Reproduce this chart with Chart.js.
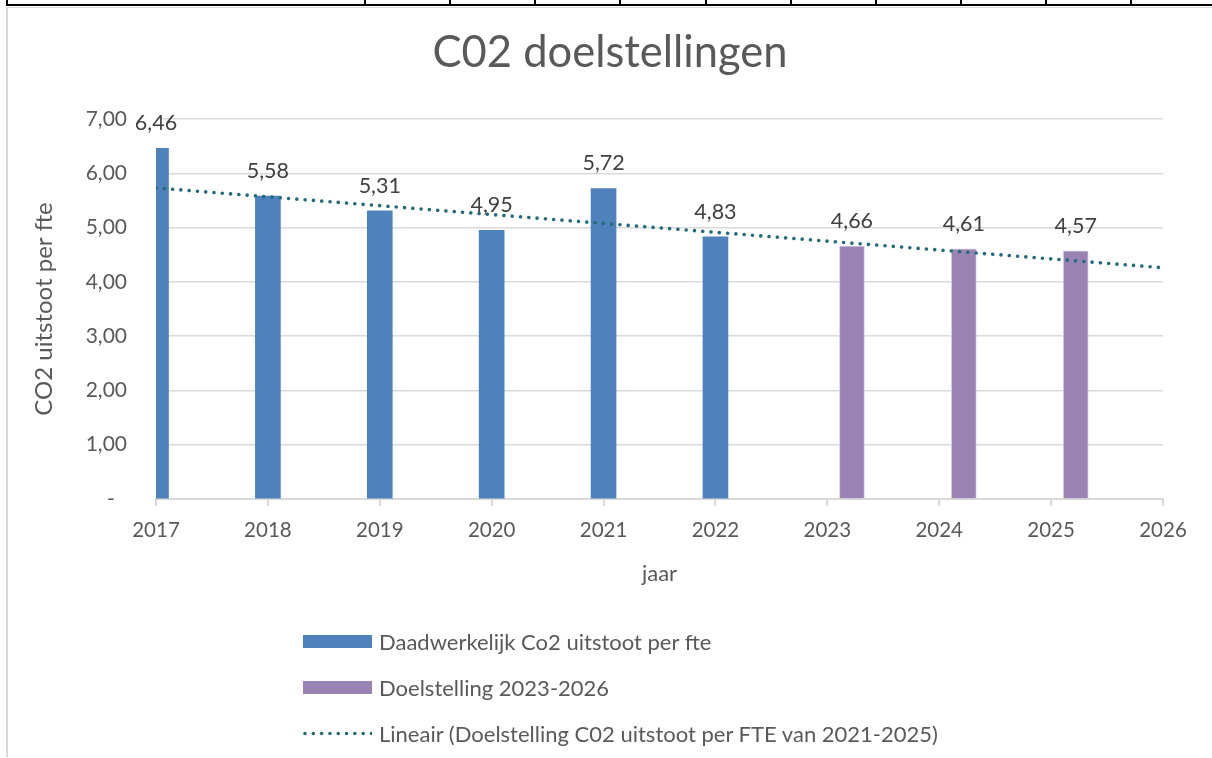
<!DOCTYPE html>
<html>
<head>
<meta charset="utf-8">
<script src="https://cdn.jsdelivr.net/npm/chart.js@4/dist/chart.umd.min.js"></script>
<style>
  html, body { margin: 0; padding: 0; background: #ffffff; }
  #wrap { position: relative; width: 1212px; height: 758px; overflow: hidden; background: #fff; }
  #c { position: absolute; left: 0; top: 0; }
  .blk { position: absolute; background: #000; }
  .gry { position: absolute; background: #d9d9d9; }
  #legend { position: absolute; left: 303px; top: 618px; font-family: Lato, sans-serif; font-size: 22px; color: #595959; }
  .item { display: flex; align-items: center; height: 46px; white-space: nowrap; }
  .sw { width: 69px; height: 13px; margin-right: 7px; flex: none; }
  .swl { width: 69px; height: 13px; margin-right: 7px; flex: none; }
</style>
</head>
<body>
<div id="wrap">
  <canvas id="c" width="1212" height="758"></canvas>
  <div class="gry" style="left:6px;top:7px;width:2px;height:750px;"></div>
  <div class="gry" style="left:6px;top:7px;width:1206px;height:1px;"></div>
  <div class="blk" style="left:6px;top:4px;width:1206px;height:2px;"></div>
  <div id="legend"></div>
</div>
<script>
// ---- data ----
const actualYears = [2017, 2018, 2019, 2020, 2021, 2022];
const actualValues = [6.46, 5.58, 5.31, 4.95, 5.72, 4.83];
const targetYears = [2023.22, 2024.22, 2025.22];
const targetValues = [4.66, 4.61, 4.57];
const trendYears = [2017, 2026];
const trendValues = [5.73, 4.26];
const xTicks = [2017, 2018, 2019, 2020, 2021, 2022, 2023, 2024, 2025, 2026];
const yTicks = [0, 1, 2, 3, 4, 5, 6, 7];
const seriesNames = [
  'Daadwerkelijk Co2 uitstoot per fte',
  'Doelstelling 2023-2026',
  'Lineair (Doelstelling C02 uitstoot per FTE van 2021-2025)'
];
const cellDividers = [7, 365, 450, 535, 620, 706, 791, 876, 961, 1046, 1131];

// spreadsheet cell dividers (decoration)
const wrap = document.getElementById('wrap');
cellDividers.forEach(x => {
  const d = document.createElement('div');
  d.className = 'blk';
  d.style.cssText = 'left:' + (x - 1) + 'px;top:0;width:2px;height:5px;';
  wrap.appendChild(d);
});

const FONT = 'Lato, sans-serif';
const TXT = '#595959';
const fmt = v => v.toFixed(2).replace('.', ',');

const valueLabels = {
  id: 'valueLabels',
  afterDatasetsDraw(chart) {
    const ctx = chart.ctx;
    ctx.save();
    ctx.font = '21.5px ' + FONT;
    ctx.fillStyle = '#404040';
    ctx.textAlign = 'center';
    ctx.textBaseline = 'middle';
    chart.data.datasets.forEach((ds, i) => {
      if (ds.type !== 'bar') return;
      const meta = chart.getDatasetMeta(i);
      meta.data.forEach((el, j) => {
        ctx.fillText(fmt(ds.data[j].y), el.x, el.y - 25);
      });
    });
    ctx.restore();
  }
};

const chart = new Chart(document.getElementById('c'), {
  type: 'bar',
  data: {
    datasets: [
      {
        type: 'bar',
        label: seriesNames[0],
        data: actualYears.map((x, i) => ({ x: x, y: actualValues[i] })),
        backgroundColor: '#4f81bd',
        borderWidth: 0,
        barThickness: 25,
        grouped: false,
        clip: 0,
        order: 2
      },
      {
        type: 'bar',
        label: seriesNames[1],
        data: targetYears.map((x, i) => ({ x: x, y: targetValues[i] })),
        backgroundColor: '#9983b4',
        borderColor: '#d6cce3',
        borderWidth: 1,
        barThickness: 25,
        grouped: false,
        clip: 0,
        order: 2
      },
      {
        type: 'line',
        label: seriesNames[2],
        data: trendYears.map((x, i) => ({ x: x, y: trendValues[i] })),
        borderColor: '#226b78',
        borderWidth: 3.6,
        borderDash: [0.01, 8.3],
        borderCapStyle: 'round',
        pointRadius: 0,
        fill: false,
        order: 0
      }
    ]
  },
  options: {
    responsive: false,
    animation: false,
    events: [],
    layout: { padding: { left: 8, right: 0, top: 0, bottom: 159 } },
    scales: {
      x: {
        type: 'linear',
        min: xTicks[0],
        max: xTicks[xTicks.length - 1],
        offset: false,
        afterBuildTicks(s) { s.ticks = xTicks.map(v => ({ value: v })); },
        afterFit(s) { s.height = 100; },
        ticks: {
          callback: v => String(v),
          color: TXT,
          font: { family: FONT, size: 20.5 },
          padding: 12,
          maxRotation: 0,
          autoSkip: false
        },
        grid: { offset: false, drawOnChartArea: false, drawTicks: true, tickLength: 7, color: '#d9d9d9', lineWidth: 2 },
        border: { display: true, color: '#d9d9d9', width: 2 },
        title: {
          display: true, text: 'jaar', color: TXT,
          font: { family: FONT, size: 22 },
          padding: { top: 0, bottom: 12 }
        }
      },
      y: {
        min: 0,
        max: 7,
        afterBuildTicks(s) { s.ticks = yTicks.map(v => ({ value: v })); },
        afterFit(s) { s.width = 148; },
        ticks: {
          callback: v => v === 0 ? '-\u2007' : fmt(v),
          color: TXT,
          font: { family: FONT, size: 21 },
          padding: 29
        },
        grid: { color: '#d9d9d9', lineWidth: 1.5, drawTicks: false },
        border: { display: false },
        title: {
          display: true, text: 'CO2 uitstoot per fte', color: TXT,
          font: { family: FONT, size: 24 },
          padding: { top: 22, bottom: 0 }
        }
      },
      yRightSpace: {
        position: 'right',
        display: true,
        afterFit(s) { s.width = 49; },
        ticks: { display: false },
        grid: { display: false },
        border: { display: false },
        title: { display: false }
      }
    },
    plugins: {
      legend: { display: false },
      tooltip: { enabled: false },
      title: {
        display: true,
        text: 'C02 doelstellingen',
        color: TXT,
        font: { family: FONT, size: 43.5, weight: 'normal' },
        padding: { top: 27, bottom: 39.8 }
      }
    }
  },
  plugins: [valueLabels]
});

// HTML legend built from the chart's datasets
const legend = document.getElementById('legend');
chart.data.datasets.forEach(ds => {
  const item = document.createElement('div');
  item.className = 'item';
  if (ds.type === 'line') {
    const cv = document.createElement('canvas');
    cv.width = 69; cv.height = 13; cv.className = 'swl';
    const g = cv.getContext('2d');
    g.strokeStyle = ds.borderColor;
    g.lineWidth = ds.borderWidth;
    g.lineCap = 'round';
    g.setLineDash(ds.borderDash);
    g.beginPath(); g.moveTo(2, 6.5); g.lineTo(69, 6.5); g.stroke();
    item.appendChild(cv);
  } else {
    const sw = document.createElement('div');
    sw.className = 'sw';
    sw.style.background = ds.backgroundColor;
    item.appendChild(sw);
  }
  const t = document.createElement('span');
  t.textContent = ds.label;
  item.appendChild(t);
  legend.appendChild(item);
});
</script>
</body>
</html>
